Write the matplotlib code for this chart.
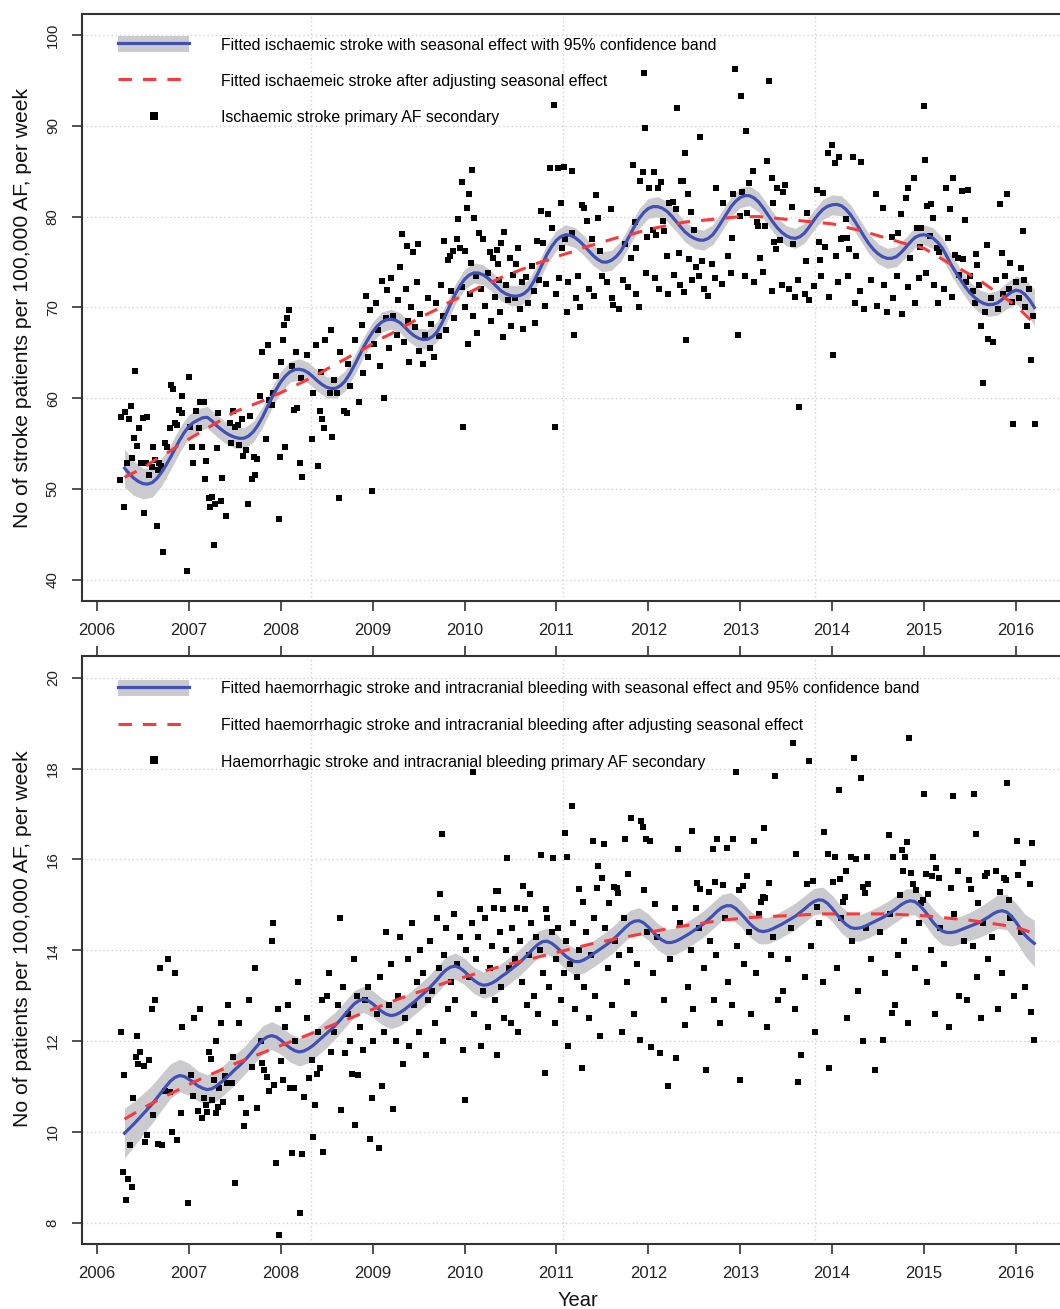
import numpy as np
import matplotlib
matplotlib.use('Agg')
import matplotlib.pyplot as plt
from matplotlib.patches import Patch
from matplotlib.lines import Line2D

plt.rcParams['font.family'] = ['Liberation Sans', 'DejaVu Sans']

# ---------------- DATA ----------------
year_ticks = [2006, 2007, 2008, 2009, 2010, 2011, 2012, 2013, 2014, 2015, 2016]
top_yticks = [40, 50, 60, 70, 80, 90, 100]
bot_yticks = [8, 10, 12, 14, 16, 18, 20]

# trend curves and band widths sampled every 0.1 year (2006.3 .. 2016.2)
trend_year = np.round(np.arange(2006.3, 2016.25, 0.1), 2)
# seasonal curves sampled every 0.05 year (2006.3 .. 2016.2)
seas_year = np.round(np.arange(2006.3, 2016.225, 0.05), 2)

top_trend = [51.3, 51.8, 52.3, 53.0, 53.6, 54.2, 54.9, 55.5, 56.1, 56.7,
             57.3, 57.9, 58.5, 58.9, 59.3, 59.7, 60.2, 60.6, 61.1, 61.6,
             62.1, 62.6, 63.2, 63.8, 64.3, 64.9, 65.4, 66.0, 66.6, 67.1,
             67.7, 68.2, 68.8, 69.3, 69.8, 70.4, 70.9, 71.4, 71.9, 72.4,
             72.8, 73.3, 73.7, 74.1, 74.5, 74.9, 75.2, 75.6, 75.9, 76.2,
             76.6, 76.9, 77.2, 77.5, 77.8, 78.0, 78.3, 78.6, 78.8, 79.0,
             79.2, 79.4, 79.5, 79.6, 79.7, 79.8, 79.9, 80.0, 80.0, 80.0,
             79.9, 79.8, 79.7, 79.6, 79.5, 79.4, 79.3, 79.2, 79.0, 78.7,
             78.5, 78.2, 77.9, 77.6, 77.3, 77.0, 76.8, 76.5, 75.9, 75.3,
             74.7, 74.2, 73.6, 73.0, 72.3, 71.6, 70.9, 70.2, 69.2, 68.2]

top_seasonal = [52.3, 51.7, 51.2, 50.83, 50.6, 50.54, 50.7, 51.15, 51.8, 52.6,
                53.5, 54.46, 55.4, 56.23, 56.9, 57.33, 57.6, 57.85, 57.9, 57.52,
                57.0, 56.58, 56.2, 55.91, 55.7, 55.58, 55.6, 55.84, 56.3, 57.01,
                57.9, 58.94, 60.0, 60.96, 61.8, 62.44, 62.9, 63.14, 63.2, 63.08,
                62.8, 62.37, 61.9, 61.5, 61.2, 61.06, 61.1, 61.39, 61.9, 62.68,
                63.6, 64.6, 65.6, 66.51, 67.3, 67.94, 68.4, 68.64, 68.7, 68.58,
                68.3, 67.82, 67.3, 66.89, 66.6, 66.46, 66.5, 66.77, 67.3, 68.21,
                69.3, 70.43, 71.5, 72.39, 73.1, 73.56, 73.8, 73.79, 73.6, 73.25,
                72.8, 72.28, 71.8, 71.49, 71.3, 71.23, 71.3, 71.54, 72.0, 72.81,
                73.8, 74.87, 75.9, 76.74, 77.4, 77.81, 78.0, 77.94, 77.7, 77.3,
                76.8, 76.24, 75.7, 75.27, 75.0, 74.99, 75.2, 75.6, 76.2, 77.05,
                78.0, 78.94, 79.8, 80.45, 80.9, 81.1, 81.1, 80.93, 80.6, 80.09,
                79.5, 78.88, 78.3, 77.89, 77.6, 77.42, 77.4, 77.59, 78.0, 78.69,
                79.5, 80.33, 81.1, 81.69, 82.1, 82.31, 82.3, 82.05, 81.6, 80.94,
                80.2, 79.47, 78.8, 78.28, 77.9, 77.66, 77.6, 77.79, 78.2, 78.86,
                79.6, 80.26, 80.8, 81.13, 81.3, 81.34, 81.2, 80.79, 80.2, 79.44,
                78.6, 77.77, 77.0, 76.38, 75.9, 75.57, 75.4, 75.41, 75.6, 76.04,
                76.6, 77.19, 77.7, 77.94, 78.0, 77.89, 77.6, 77.14, 76.5, 75.58,
                74.6, 73.77, 73.0, 72.26, 71.6, 71.09, 70.7, 70.43, 70.3, 70.33,
                70.5, 70.88, 71.3, 71.68, 71.9, 71.78, 71.4, 70.79, 70.0]

top_band_halfwidth = [2.1, 1.9, 1.7, 1.6, 1.5, 1.4, 1.35, 1.3, 1.25, 1.2,
                      1.2, 1.2, 1.2, 1.15, 1.15, 1.15, 1.15, 1.15, 1.15, 1.15,
                      1.15, 1.15, 1.15, 1.1, 1.1, 1.1, 1.1, 1.1, 1.1, 1.1,
                      1.1, 1.1, 1.1, 1.1, 1.1, 1.1, 1.1, 1.1, 1.1, 1.1,
                      1.1, 1.1, 1.1, 1.1, 1.1, 1.1, 1.1, 1.1, 1.1, 1.1,
                      1.1, 1.1, 1.1, 1.1, 1.1, 1.1, 1.1, 1.1, 1.1, 1.1,
                      1.1, 1.1, 1.1, 1.1, 1.1, 1.1, 1.1, 1.1, 1.1, 1.1,
                      1.1, 1.1, 1.1, 1.1, 1.1, 1.1, 1.1, 1.1, 1.1, 1.1,
                      1.1, 1.1, 1.1, 1.1, 1.1, 1.1, 1.1, 1.1, 1.15, 1.15,
                      1.15, 1.15, 1.2, 1.25, 1.3, 1.35, 1.45, 1.55, 1.75, 2.0]

bot_trend = [10.28, 10.40, 10.52, 10.63, 10.74, 10.84, 10.94, 11.04, 11.14, 11.23,
             11.32, 11.41, 11.50, 11.58, 11.66, 11.74, 11.82, 11.90, 11.98, 12.06,
             12.14, 12.22, 12.30, 12.38, 12.46, 12.54, 12.62, 12.70, 12.78, 12.86,
             12.94, 13.01, 13.08, 13.15, 13.22, 13.29, 13.35, 13.41, 13.47, 13.53,
             13.59, 13.65, 13.70, 13.75, 13.80, 13.85, 13.90, 13.95, 14.00, 14.05,
             14.10, 14.15, 14.19, 14.23, 14.27, 14.31, 14.35, 14.39, 14.43, 14.47,
             14.51, 14.54, 14.57, 14.60, 14.63, 14.66, 14.68, 14.70, 14.72, 14.73,
             14.74, 14.75, 14.76, 14.77, 14.78, 14.79, 14.80, 14.80, 14.80, 14.80,
             14.80, 14.80, 14.80, 14.80, 14.79, 14.78, 14.77, 14.76, 14.74, 14.72,
             14.70, 14.68, 14.66, 14.63, 14.60, 14.57, 14.54, 14.50, 14.44, 14.36]

bot_seasonal = [9.97, 10.07, 10.17, 10.28, 10.39, 10.50, 10.61, 10.74, 10.87, 11.0,
                11.12, 11.2, 11.24, 11.22, 11.16, 11.09, 11.01, 10.96, 10.93, 10.95,
                11.01, 11.09, 11.18, 11.27, 11.37, 11.46, 11.56, 11.67, 11.79, 11.91,
                12.02, 12.09, 12.12, 12.09, 12.02, 11.93, 11.85, 11.79, 11.76, 11.78,
                11.83, 11.9, 11.99, 12.08, 12.17, 12.26, 12.36, 12.47, 12.59, 12.71,
                12.82, 12.89, 12.92, 12.89, 12.82, 12.73, 12.65, 12.59, 12.56, 12.58,
                12.63, 12.70, 12.78, 12.86, 12.95, 13.04, 13.13, 13.24, 13.35, 13.47,
                13.57, 13.63, 13.65, 13.61, 13.53, 13.43, 13.34, 13.27, 13.23, 13.24,
                13.28, 13.34, 13.42, 13.49, 13.57, 13.65, 13.73, 13.83, 13.93, 14.04,
                14.13, 14.19, 14.20, 14.15, 14.07, 13.97, 13.87, 13.8, 13.75, 13.75,
                13.79, 13.85, 13.92, 13.99, 14.06, 14.13, 14.21, 14.3, 14.40, 14.5,
                14.59, 14.64, 14.65, 14.6, 14.51, 14.4, 14.30, 14.22, 14.17, 14.17,
                14.20, 14.25, 14.31, 14.37, 14.44, 14.51, 14.58, 14.67, 14.76, 14.86,
                14.94, 14.98, 14.98, 14.92, 14.82, 14.71, 14.59, 14.5, 14.43, 14.41,
                14.43, 14.47, 14.52, 14.57, 14.63, 14.69, 14.75, 14.83, 14.91, 15.0,
                15.07, 15.11, 15.10, 15.03, 14.92, 14.79, 14.67, 14.57, 14.50, 14.48,
                14.49, 14.52, 14.57, 14.62, 14.67, 14.72, 14.78, 14.85, 14.92, 15.0,
                15.06, 15.09, 15.07, 14.99, 14.88, 14.75, 14.61, 14.5, 14.42, 14.39,
                14.39, 14.41, 14.45, 14.49, 14.53, 14.57, 14.61, 14.67, 14.73, 14.8,
                14.85, 14.87, 14.84, 14.75, 14.62, 14.47, 14.33, 14.23, 14.15]

bot_band_halfwidth = [0.55, 0.50, 0.45, 0.42, 0.40, 0.38, 0.36, 0.35, 0.33, 0.33,
                      0.33, 0.33, 0.33, 0.31, 0.31, 0.31, 0.31, 0.31, 0.31, 0.31,
                      0.31, 0.31, 0.31, 0.29, 0.29, 0.29, 0.29, 0.29, 0.29, 0.29,
                      0.29, 0.29, 0.29, 0.29, 0.29, 0.29, 0.29, 0.29, 0.29, 0.29,
                      0.29, 0.29, 0.29, 0.29, 0.29, 0.29, 0.29, 0.29, 0.29, 0.29,
                      0.29, 0.29, 0.29, 0.29, 0.29, 0.29, 0.29, 0.29, 0.29, 0.29,
                      0.29, 0.29, 0.29, 0.29, 0.29, 0.29, 0.29, 0.29, 0.29, 0.29,
                      0.29, 0.29, 0.29, 0.29, 0.29, 0.29, 0.29, 0.29, 0.29, 0.29,
                      0.29, 0.29, 0.29, 0.29, 0.29, 0.29, 0.29, 0.29, 0.30, 0.30,
                      0.30, 0.30, 0.31, 0.33, 0.35, 0.37, 0.39, 0.42, 0.46, 0.51]

# weekly observations (year, value)
top_obs_2006_2008 = [
    (2006.25, 51.0), (2006.26, 57.9), (2006.29, 48.0), (2006.31, 58.5), (2006.33, 52.9),
    (2006.35, 57.7), (2006.37, 59.1), (2006.38, 53.4), (2006.40, 55.6), (2006.41, 63.0),
    (2006.44, 54.7), (2006.46, 56.7), (2006.48, 52.9), (2006.50, 57.8), (2006.51, 47.4),
    (2006.53, 52.9), (2006.54, 57.9), (2006.57, 51.5), (2006.60, 52.4), (2006.61, 54.6),
    (2006.63, 53.2), (2006.65, 45.9), (2006.66, 52.1), (2006.67, 52.9), (2006.70, 52.5),
    (2006.72, 43.1), (2006.74, 55.1), (2006.76, 54.6), (2006.79, 56.7), (2006.81, 61.5),
    (2006.83, 61.0), (2006.85, 57.3), (2006.87, 57.0), (2006.89, 58.7), (2006.92, 58.4),
    (2006.93, 60.2), (2006.98, 41.0), (2007.00, 62.3), (2007.01, 56.8), (2007.03, 54.6),
    (2007.05, 52.9), (2007.08, 58.6), (2007.11, 56.7), (2007.12, 59.6), (2007.14, 54.6),
    (2007.16, 59.6), (2007.17, 51.1), (2007.19, 53.1), (2007.22, 49.0), (2007.23, 48.0),
    (2007.25, 49.1), (2007.27, 43.8), (2007.28, 48.3), (2007.31, 54.5), (2007.32, 58.4),
    (2007.35, 48.7), (2007.36, 51.2), (2007.40, 47.0), (2007.45, 57.3), (2007.46, 55.1),
    (2007.48, 58.6), (2007.50, 56.8), (2007.53, 57.0), (2007.55, 54.8), (2007.58, 57.7),
    (2007.59, 53.6), (2007.62, 54.3), (2007.64, 48.3), (2007.66, 58.0), (2007.69, 51.1),
    (2007.71, 53.5), (2007.72, 51.5), (2007.74, 53.3), (2007.77, 60.2), (2007.80, 65.1),
    (2007.84, 55.5), (2007.86, 65.9), (2007.87, 59.8), (2007.90, 59.3), (2007.92, 60.6),
    (2007.95, 62.5), (2007.98, 46.7), (2007.99, 53.5), (2008.00, 64.0), (2008.02, 66.4),
    (2008.04, 68.1), (2008.05, 54.6), (2008.07, 68.8), (2008.09, 69.7), (2008.12, 63.5),
    (2008.14, 58.7), (2008.17, 65.1), (2008.18, 58.9), (2008.21, 52.9), (2008.22, 62.2),
    (2008.23, 51.3), (2008.28, 64.8), (2008.34, 55.5), (2008.35, 60.6), (2008.38, 65.9),
    (2008.40, 52.5), (2008.43, 58.6), (2008.44, 62.9), (2008.45, 57.7), (2008.47, 56.7),
    (2008.48, 66.4), (2008.54, 60.6), (2008.55, 67.5), (2008.56, 55.7), (2008.58, 62.0),
    (2008.61, 60.6), (2008.63, 49.0), (2008.64, 65.1), (2008.69, 58.6), (2008.72, 58.4),
    (2008.73, 63.8), (2008.75, 61.3), (2008.81, 66.4), (2008.85, 59.6),
]
top_obs_2009_2010 = [
    (2008.88, 68.1), (2008.90, 62.8), (2008.93, 71.3), (2008.95, 64.5), (2008.97, 69.7),
    (2008.99, 49.8), (2009.01, 66.0), (2009.04, 70.5), (2009.06, 67.5), (2009.08, 63.5),
    (2009.10, 72.9), (2009.12, 60.0), (2009.14, 68.8), (2009.16, 71.9), (2009.18, 65.5),
    (2009.20, 73.2), (2009.22, 69.0), (2009.26, 67.0), (2009.28, 70.8), (2009.30, 74.4),
    (2009.32, 78.1), (2009.34, 66.2), (2009.36, 72.0), (2009.37, 76.8), (2009.38, 68.5),
    (2009.40, 64.0), (2009.42, 70.0), (2009.44, 76.1), (2009.46, 67.8), (2009.48, 72.8),
    (2009.49, 77.0), (2009.50, 65.2), (2009.52, 69.3), (2009.55, 63.8), (2009.57, 67.0),
    (2009.60, 71.0), (2009.62, 65.5), (2009.64, 68.2), (2009.67, 64.5), (2009.69, 70.5),
    (2009.72, 66.8), (2009.74, 72.5), (2009.77, 69.0), (2009.78, 77.3), (2009.80, 67.5),
    (2009.82, 75.2), (2009.84, 75.7), (2009.85, 71.8), (2009.87, 76.2), (2009.89, 68.8),
    (2009.92, 77.5), (2009.93, 79.7), (2009.95, 76.5), (2009.97, 83.8), (2009.97, 72.2),
    (2009.98, 56.8), (2010.00, 76.2), (2010.01, 70.0), (2010.03, 80.9), (2010.04, 66.0),
    (2010.05, 82.5), (2010.06, 71.5), (2010.07, 74.9), (2010.08, 85.1), (2010.09, 69.0),
    (2010.10, 79.8), (2010.12, 73.5), (2010.14, 67.2), (2010.16, 78.2), (2010.18, 72.0),
    (2010.20, 77.5), (2010.22, 70.2), (2010.25, 73.8), (2010.28, 76.1), (2010.29, 68.5),
    (2010.31, 75.4), (2010.33, 71.2), (2010.35, 76.3), (2010.36, 74.8), (2010.37, 73.0),
    (2010.39, 69.5), (2010.40, 77.1), (2010.42, 66.7), (2010.43, 78.3), (2010.45, 72.5),
    (2010.47, 70.8), (2010.49, 75.4),
]
top_obs_2010_2011 = [
    (2010.51, 68.0), (2010.53, 73.6), (2010.55, 71.0), (2010.56, 74.8), (2010.58, 76.5),
    (2010.60, 69.8), (2010.62, 72.8), (2010.64, 67.6), (2010.67, 73.4), (2010.69, 70.5),
    (2010.73, 74.6), (2010.75, 71.8), (2010.77, 68.3), (2010.79, 77.3), (2010.81, 73.0),
    (2010.83, 80.6), (2010.85, 77.1), (2010.87, 70.2), (2010.89, 72.6), (2010.91, 80.3),
    (2010.93, 85.4), (2010.95, 78.7), (2010.97, 92.3), (2010.98, 56.8), (2011.00, 71.5),
    (2011.02, 85.4), (2011.03, 73.2), (2011.05, 81.5), (2011.06, 76.5), (2011.08, 85.5),
    (2011.09, 77.5), (2011.11, 69.5), (2011.13, 72.8), (2011.17, 85.0), (2011.17, 78.2),
    (2011.19, 67.0), (2011.21, 71.0), (2011.23, 73.5), (2011.26, 70.0), (2011.28, 81.3),
    (2011.30, 80.9), (2011.33, 79.5), (2011.35, 72.0), (2011.39, 77.5), (2011.41, 71.3),
    (2011.43, 82.4), (2011.45, 79.8), (2011.47, 76.2),
]
top_obs_2011_2012 = [
    (2011.50, 73.5), (2011.55, 72.8), (2011.59, 80.8), (2011.60, 71.0), (2011.62, 70.3),
    (2011.68, 69.8), (2011.72, 73.0), (2011.75, 77.0), (2011.78, 72.2), (2011.81, 75.4),
    (2011.83, 85.7), (2011.85, 79.4), (2011.86, 71.5), (2011.87, 76.5), (2011.90, 70.0),
    (2011.91, 83.9), (2011.94, 84.9), (2011.95, 95.8), (2011.96, 89.8), (2011.97, 73.8),
    (2011.98, 77.8), (2012.01, 83.2), (2012.05, 78.5), (2012.06, 84.9), (2012.07, 73.2),
    (2012.08, 78.0), (2012.11, 83.2), (2012.12, 72.0), (2012.14, 83.8), (2012.16, 79.5),
    (2012.17, 78.4), (2012.20, 75.7), (2012.21, 71.5), (2012.22, 81.5), (2012.27, 81.6),
    (2012.28, 73.6), (2012.30, 80.8), (2012.31, 92.0), (2012.33, 76.0), (2012.34, 72.5),
    (2012.35, 83.9), (2012.38, 83.9), (2012.39, 71.7), (2012.40, 87.0), (2012.41, 66.4),
    (2012.43, 82.5), (2012.44, 75.3), (2012.46, 80.5), (2012.47, 73.0), (2012.50, 78.5),
    (2012.52, 74.4),
]
top_obs_2012_2013 = [
    (2012.55, 73.5), (2012.56, 88.8), (2012.58, 75.1), (2012.60, 72.0), (2012.65, 71.3),
    (2012.69, 74.8), (2012.72, 73.2), (2012.74, 83.2), (2012.80, 72.6), (2012.81, 81.5),
    (2012.87, 75.7), (2012.90, 73.8), (2012.91, 77.6), (2012.92, 82.5), (2012.94, 96.3),
    (2012.98, 67.0), (2013.00, 80.1), (2013.01, 93.3), (2013.02, 82.7), (2013.05, 73.5),
    (2013.06, 89.4), (2013.07, 80.4), (2013.09, 83.7), (2013.14, 85.0), (2013.15, 72.8),
    (2013.18, 79.4), (2013.19, 79.0), (2013.21, 75.4), (2013.25, 73.9), (2013.27, 79.0),
    (2013.29, 86.1), (2013.31, 94.9), (2013.34, 84.3), (2013.35, 71.8), (2013.36, 81.5),
    (2013.37, 77.2), (2013.39, 76.4), (2013.40, 83.2), (2013.43, 77.4), (2013.45, 72.5),
    (2013.46, 82.7), (2013.49, 83.5),
]
top_obs_2013_2014 = [
    (2013.53, 72.0), (2013.56, 81.1), (2013.57, 77.0), (2013.60, 71.2), (2013.63, 73.0),
    (2013.64, 59.0), (2013.70, 71.5), (2013.72, 75.1), (2013.73, 80.4), (2013.75, 70.8),
    (2013.80, 72.4), (2013.84, 82.9), (2013.86, 77.2), (2013.87, 75.2), (2013.88, 73.5),
    (2013.90, 82.6), (2013.92, 76.7), (2013.95, 87.0), (2013.96, 71.2), (2014.00, 87.9),
    (2014.01, 64.8), (2014.03, 85.9), (2014.04, 75.7), (2014.06, 72.8), (2014.07, 86.6),
    (2014.10, 77.5), (2014.12, 77.6), (2014.15, 79.7), (2014.16, 77.6), (2014.17, 73.5),
    (2014.18, 76.4), (2014.23, 86.6), (2014.25, 70.5), (2014.26, 75.7), (2014.30, 71.8),
    (2014.31, 86.0), (2014.35, 69.8), (2014.42, 73.0), (2014.48, 82.5), (2014.49, 70.2),
]
top_obs_2014_2015 = [
    (2014.55, 80.9), (2014.56, 72.5), (2014.60, 69.5), (2014.65, 77.8), (2014.66, 71.0),
    (2014.70, 73.5), (2014.72, 78.2), (2014.75, 80.3), (2014.76, 69.3), (2014.80, 82.1),
    (2014.82, 83.2), (2014.83, 72.2), (2014.85, 75.4), (2014.89, 84.3), (2014.90, 70.5),
    (2014.92, 78.7), (2014.95, 73.2), (2014.96, 76.7), (2014.97, 78.7), (2015.00, 92.2),
    (2015.01, 86.2), (2015.02, 73.8), (2015.03, 81.2), (2015.06, 77.9), (2015.08, 81.4),
    (2015.10, 79.9), (2015.11, 72.5), (2015.14, 76.5), (2015.15, 70.5), (2015.16, 76.1),
    (2015.22, 72.0), (2015.24, 83.2), (2015.26, 77.6), (2015.28, 80.8), (2015.30, 71.2),
    (2015.31, 84.3), (2015.34, 75.8), (2015.37, 75.4), (2015.38, 73.6), (2015.41, 82.8),
    (2015.42, 75.3), (2015.45, 79.6), (2015.46, 72.8), (2015.48, 82.9),
]
top_obs_2015_2016 = [
    (2015.50, 73.5), (2015.53, 71.8), (2015.55, 70.5), (2015.56, 75.9), (2015.58, 74.7),
    (2015.60, 72.5), (2015.62, 68.0), (2015.64, 61.7), (2015.66, 69.5), (2015.68, 76.9),
    (2015.70, 66.5), (2015.73, 71.0), (2015.75, 66.2), (2015.78, 73.0), (2015.80, 69.8),
    (2015.83, 81.4), (2015.85, 76.0), (2015.86, 71.5), (2015.88, 73.5), (2015.90, 82.5),
    (2015.92, 72.0), (2015.93, 74.9), (2015.96, 70.6), (2015.97, 57.2), (2016.00, 72.8),
    (2016.03, 71.0), (2016.06, 74.3), (2016.08, 78.4), (2016.09, 73.0), (2016.10, 70.0),
    (2016.12, 68.0), (2016.14, 72.0), (2016.16, 64.2), (2016.19, 69.0), (2016.21, 57.2),
]

bot_obs_2006_2008 = [
    (2006.26, 12.2), (2006.28, 9.12), (2006.29, 11.26), (2006.32, 8.5), (2006.34, 8.97),
    (2006.36, 9.71), (2006.38, 8.79), (2006.39, 10.75), (2006.42, 11.65), (2006.44, 12.1),
    (2006.45, 11.49), (2006.47, 11.76), (2006.51, 11.46), (2006.52, 9.78), (2006.54, 9.93),
    (2006.57, 11.59), (2006.60, 12.7), (2006.61, 10.37), (2006.63, 12.9), (2006.66, 9.74),
    (2006.69, 13.6), (2006.71, 9.71), (2006.74, 10.9), (2006.77, 13.8), (2006.79, 10.88),
    (2006.82, 10.0), (2006.85, 13.5), (2006.87, 9.82), (2006.91, 10.42), (2006.93, 12.3),
    (2006.99, 8.44), (2007.02, 11.26), (2007.04, 10.79), (2007.06, 12.5), (2007.10, 10.46),
    (2007.12, 12.7), (2007.14, 10.3), (2007.16, 10.75), (2007.19, 10.6), (2007.20, 10.44),
    (2007.22, 11.76), (2007.24, 11.6), (2007.25, 10.7), (2007.27, 11.15), (2007.29, 10.42),
    (2007.30, 12.0), (2007.32, 10.55), (2007.33, 10.97), (2007.35, 12.4), (2007.37, 10.66),
    (2007.39, 11.23), (2007.41, 11.08), (2007.43, 12.8), (2007.47, 11.08), (2007.48, 11.65),
    (2007.50, 8.88), (2007.55, 12.4), (2007.57, 10.75), (2007.60, 10.13), (2007.62, 10.42),
    (2007.65, 12.9), (2007.69, 11.43), (2007.72, 13.6), (2007.74, 10.53), (2007.78, 12.0),
    (2007.80, 11.52), (2007.82, 11.37), (2007.85, 11.21), (2007.87, 10.9), (2007.90, 14.2),
    (2007.92, 14.6), (2007.93, 11.04), (2007.95, 9.32), (2007.97, 12.7), (2007.98, 7.73),
    (2008.00, 11.56), (2008.02, 11.15), (2008.05, 12.3), (2008.08, 12.8), (2008.10, 10.97),
    (2008.12, 9.54), (2008.14, 10.97), (2008.16, 12.0), (2008.19, 13.3), (2008.21, 8.22),
    (2008.23, 9.52), (2008.25, 10.77), (2008.28, 12.5), (2008.31, 11.19), (2008.34, 11.59),
    (2008.35, 9.89), (2008.37, 10.6), (2008.39, 11.28), (2008.41, 12.2), (2008.43, 11.41),
    (2008.45, 12.9), (2008.46, 9.56), (2008.50, 13.0), (2008.52, 13.5), (2008.55, 11.76),
    (2008.58, 12.2), (2008.62, 12.8), (2008.64, 14.7), (2008.66, 10.48), (2008.68, 13.2),
    (2008.70, 11.74), (2008.73, 12.6), (2008.75, 12.0), (2008.77, 11.28), (2008.80, 13.8),
    (2008.81, 10.16), (2008.83, 13.0), (2008.84, 11.26),
]
bot_obs_2009_2011 = [
    (2008.86, 12.3), (2008.90, 11.8), (2008.92, 12.9), (2008.95, 13.2), (2008.97, 9.84),
    (2008.99, 10.75), (2009.00, 12.0), (2009.05, 12.6), (2009.07, 9.65), (2009.08, 13.4),
    (2009.10, 11.0), (2009.12, 12.2), (2009.15, 14.4), (2009.18, 12.8), (2009.20, 13.7),
    (2009.22, 10.5), (2009.25, 12.0), (2009.28, 13.0), (2009.30, 14.3), (2009.33, 11.5),
    (2009.35, 12.5), (2009.38, 13.8), (2009.40, 11.9), (2009.43, 14.6), (2009.45, 12.8),
    (2009.48, 13.3), (2009.50, 12.2), (2009.52, 14.0), (2009.55, 13.5), (2009.58, 11.7),
    (2009.60, 12.9), (2009.62, 14.2), (2009.65, 13.1), (2009.68, 12.4), (2009.70, 14.7),
    (2009.72, 13.6), (2009.73, 15.24), (2009.75, 16.56), (2009.76, 12.0), (2009.78, 13.9),
    (2009.80, 14.5), (2009.82, 12.7), (2009.85, 13.3), (2009.88, 14.8), (2009.90, 12.9),
    (2009.92, 13.7), (2009.95, 14.3), (2009.98, 11.8), (2010.00, 10.7), (2010.02, 14.0),
    (2010.05, 13.4), (2010.08, 14.6), (2010.09, 17.93), (2010.10, 12.6), (2010.12, 13.8),
    (2010.15, 14.3), (2010.17, 14.91), (2010.18, 11.9), (2010.20, 13.1), (2010.22, 14.7),
    (2010.25, 12.3), (2010.28, 13.6), (2010.30, 14.1), (2010.32, 14.93), (2010.33, 12.9),
    (2010.34, 15.31), (2010.35, 11.7), (2010.36, 15.31), (2010.38, 14.4), (2010.40, 13.2),
    (2010.42, 14.91), (2010.43, 12.5), (2010.45, 14.0), (2010.46, 16.04), (2010.48, 13.6),
    (2010.50, 12.4), (2010.52, 14.5), (2010.55, 13.8), (2010.57, 14.93), (2010.58, 12.2),
    (2010.60, 14.2), (2010.62, 13.3), (2010.64, 15.42), (2010.66, 14.91), (2010.68, 12.8),
    (2010.70, 13.9), (2010.71, 15.24), (2010.72, 14.6), (2010.75, 13.0), (2010.78, 14.3),
    (2010.80, 12.6), (2010.82, 14.0), (2010.83, 16.1), (2010.85, 13.5), (2010.88, 11.3),
    (2010.89, 14.91), (2010.90, 14.7), (2010.92, 13.2), (2010.95, 14.4), (2010.96, 16.04),
    (2010.98, 12.4), (2011.00, 13.8), (2011.02, 14.5), (2011.05, 12.9), (2011.08, 13.5),
    (2011.09, 16.59), (2011.10, 14.2), (2011.11, 16.06), (2011.12, 11.9), (2011.15, 13.7),
    (2011.17, 17.18), (2011.18, 14.6), (2011.20, 12.7), (2011.22, 13.4), (2011.24, 15.35),
    (2011.25, 14.0), (2011.28, 11.4), (2011.29, 15.07), (2011.30, 13.2), (2011.32, 14.4),
    (2011.35, 12.5), (2011.38, 13.9), (2011.40, 16.41), (2011.41, 14.7), (2011.42, 13.0),
    (2011.44, 15.37), (2011.45, 15.86), (2011.47, 12.1), (2011.50, 15.59), (2011.52, 16.34),
]
bot_obs_2011_2013 = [
    (2011.53, 14.5), (2011.56, 13.6), (2011.57, 15.04), (2011.60, 12.8), (2011.63, 15.4),
    (2011.64, 14.2), (2011.66, 15.37), (2011.67, 15.26), (2011.68, 13.9), (2011.71, 12.2),
    (2011.74, 14.7), (2011.75, 16.45), (2011.77, 13.3), (2011.78, 15.68), (2011.80, 14.0),
    (2011.81, 16.92), (2011.84, 12.6), (2011.88, 13.7), (2011.91, 12.03), (2011.92, 16.85),
    (2011.94, 16.72), (2011.95, 15.33), (2011.97, 16.45), (2011.98, 14.4), (2012.02, 16.41),
    (2012.03, 11.87), (2012.05, 13.5), (2012.07, 15.02), (2012.09, 14.3), (2012.13, 11.74),
    (2012.17, 12.9), (2012.21, 11.0), (2012.24, 13.8), (2012.29, 14.93), (2012.30, 11.63),
    (2012.32, 16.23), (2012.34, 14.6), (2012.40, 12.36), (2012.43, 13.2), (2012.46, 14.0),
    (2012.47, 16.63), (2012.49, 12.7), (2012.52, 14.93), (2012.53, 15.48), (2012.55, 14.5),
    (2012.56, 15.35), (2012.60, 13.6), (2012.63, 11.37), (2012.66, 15.29), (2012.67, 14.2),
    (2012.70, 16.23), (2012.71, 12.9), (2012.72, 15.51), (2012.74, 13.9), (2012.75, 16.45),
    (2012.78, 12.4), (2012.81, 15.44), (2012.83, 14.7), (2012.86, 16.26), (2012.87, 13.3),
    (2012.91, 12.8), (2012.92, 16.45), (2012.95, 17.93), (2012.96, 14.1), (2012.99, 15.33),
    (2013.00, 11.15), (2013.03, 15.42), (2013.04, 13.7), (2013.07, 15.64), (2013.09, 14.4),
    (2013.12, 12.6), (2013.15, 16.41), (2013.17, 13.5), (2013.20, 14.8), (2013.23, 15.07),
    (2013.25, 15.18), (2013.26, 16.7), (2013.27, 15.15), (2013.29, 12.3), (2013.31, 15.48),
    (2013.33, 13.9), (2013.36, 14.3), (2013.38, 17.84), (2013.41, 12.9), (2013.46, 13.1),
]
bot_obs_2013_2016 = [
    (2013.52, 13.8), (2013.55, 14.5), (2013.57, 18.57), (2013.59, 12.7), (2013.61, 16.12),
    (2013.63, 11.1), (2013.66, 11.7), (2013.70, 13.4), (2013.73, 15.46), (2013.75, 18.17),
    (2013.77, 14.1), (2013.79, 15.53), (2013.81, 12.2), (2013.83, 14.96), (2013.86, 14.6),
    (2013.90, 13.3), (2013.91, 16.61), (2013.95, 16.12), (2013.96, 11.4), (2014.01, 15.51),
    (2014.03, 16.06), (2014.05, 13.6), (2014.07, 17.53), (2014.08, 15.57), (2014.10, 14.7),
    (2014.12, 15.07), (2014.14, 15.18), (2014.15, 15.75), (2014.16, 12.5), (2014.20, 16.06),
    (2014.22, 14.2), (2014.24, 18.24), (2014.26, 16.01), (2014.28, 13.1), (2014.31, 17.8),
    (2014.33, 12.0), (2014.34, 15.4), (2014.36, 15.26), (2014.37, 14.5), (2014.38, 16.06),
    (2014.39, 15.46), (2014.42, 13.8), (2014.47, 11.37), (2014.52, 14.4), (2014.55, 12.03),
    (2014.58, 13.5), (2014.62, 16.54), (2014.63, 14.8), (2014.65, 12.62), (2014.66, 16.06),
    (2014.68, 12.8), (2014.72, 13.9), (2014.74, 15.22), (2014.76, 16.21), (2014.77, 15.75),
    (2014.78, 14.2), (2014.79, 16.06), (2014.81, 16.39), (2014.83, 12.4), (2014.84, 18.68),
    (2014.86, 15.7), (2014.88, 15.46), (2014.90, 13.6), (2014.91, 15.33), (2014.95, 14.6),
    (2014.97, 15.04), (2014.99, 15.11), (2015.00, 17.44), (2015.02, 15.68), (2015.03, 13.3),
    (2015.04, 15.24), (2015.07, 14.0), (2015.09, 15.64), (2015.10, 16.06), (2015.12, 12.6),
    (2015.13, 15.81), (2015.16, 15.59), (2015.17, 14.5), (2015.22, 13.7), (2015.27, 12.3),
    (2015.29, 15.37), (2015.31, 17.4), (2015.33, 14.8), (2015.37, 15.75), (2015.38, 13.0),
    (2015.43, 14.2), (2015.47, 12.9), (2015.49, 15.55), (2015.51, 15.35), (2015.53, 14.1),
    (2015.54, 17.44), (2015.56, 16.56), (2015.58, 13.4), (2015.59, 15.04), (2015.62, 12.5),
    (2015.64, 14.6), (2015.66, 15.64), (2015.69, 15.7), (2015.70, 13.8), (2015.74, 14.3),
    (2015.78, 15.75), (2015.80, 12.7), (2015.83, 15.29), (2015.85, 13.5), (2015.87, 15.59),
    (2015.89, 15.55), (2015.90, 17.68), (2015.92, 15.11), (2015.94, 14.7), (2015.98, 13.0),
    (2016.01, 16.41), (2016.02, 15.66), (2016.05, 14.4), (2016.08, 15.93), (2016.10, 13.2),
    (2016.15, 15.46), (2016.16, 12.64), (2016.17, 16.37), (2016.20, 12.03),
]

top_labels = ["Fitted ischaemic stroke with seasonal effect with 95% confidence band",
              "Fitted ischaemeic stroke after adjusting seasonal effect",
              "Ischaemic stroke primary AF secondary"]
bot_labels = ["Fitted haemorrhagic stroke and intracranial bleeding with seasonal effect and 95% confidence band",
              "Fitted haemorrhagic stroke and intracranial bleeding after adjusting seasonal effect",
              "Haemorrhagic stroke and intracranial bleeding primary AF secondary"]
top_ylabel = "No of stroke patients per 100,000 AF, per week"
bot_ylabel = "No of patients per 100,000 AF, per week"
xlabel = "Year"
grid_years = [2008.33, 2011.07, 2013.81]   # R date grid (days 14000, 15000, 16000)

# ---------------- STYLE ----------------
W, H = 1060, 1309
BLUE = '#4150B4'
RED = '#F53B3B'
BAND = '#CBCBCF'
SPINE = '#333333'
GRID = '#D2D2D2'
XLIM = (2005.837, 2016.479)
DASH = (0, (4.4, 3.6))

fig = plt.figure(figsize=(W / 100, H / 100), dpi=100)


def box(l, t, r, b):
    return [l / W, 1 - b / H, (r - l) / W, (b - t) / H]


ax1 = fig.add_axes(box(82, 14, 1060, 601))
ax2 = fig.add_axes(box(82, 656, 1060, 1244))


def draw(ax, obs_lists, trend, seasonal, hw, ylim, yticks, labels, ylabel, ylabel_y,
         top_ticks, leg_y, leg_space):
    pts = [p for lst in obs_lists for p in lst]
    ox = [p[0] for p in pts]
    oy = [p[1] for p in pts]
    seas_coarse = np.array(seasonal)[::2]     # seasonal curve on the 0.1-year grid
    half = np.array(hw)
    ax.set_xlim(*XLIM)
    ax.set_ylim(*ylim)
    for gy in yticks:
        ax.axhline(gy, color=GRID, lw=1.0, ls=(0, (1, 2)), zorder=0)
    for gx in grid_years:
        ax.axvline(gx, color=GRID, lw=1.0, ls=(0, (1, 2)), zorder=0)
    ax.fill_between(trend_year, seas_coarse - half, seas_coarse + half,
                    color=BAND, lw=0, zorder=1)
    ax.plot(ox, oy, 's', ms=4.0, color='black', mec='black', mew=0, zorder=2)
    ax.plot(seas_year, seasonal, color=BLUE, lw=2.3, zorder=3, solid_joinstyle='round')
    ax.plot(trend_year, trend, color=RED, lw=2.2, ls=DASH, zorder=4)

    ax.set_xticks(year_ticks)
    ax.set_xticklabels([str(y) for y in year_ticks])
    ax.set_yticks(yticks)
    ax.set_yticklabels([str(v) for v in yticks], rotation=90, va='center')
    ax.tick_params(axis='x', direction='out', length=7, width=1.2, color=SPINE,
                   labelsize=12, pad=9, labelcolor='#222222', top=top_ticks)
    ax.tick_params(axis='y', direction='out', length=7, width=1.2, color=SPINE,
                   labelsize=10.8, pad=9, labelcolor='#222222')
    for s in ['left', 'bottom', 'top']:
        ax.spines[s].set_color(SPINE)
        ax.spines[s].set_linewidth(1.5)
    ax.spines['right'].set_visible(False)

    ax.set_ylabel(ylabel, fontsize=15.2, color='#111111')
    ax.yaxis.set_label_coords(-0.051, ylabel_y)

    h1 = (Patch(facecolor=BAND, edgecolor='none'), Line2D([], [], color=BLUE, lw=2.3))
    h2 = Line2D([], [], color=RED, lw=2.2, ls=DASH)
    h3 = Line2D([], [], color='black', marker='s', ms=6, ls='none', mew=0)
    ax.legend([h1, h2, h3], labels, loc='upper left', bbox_to_anchor=(0.037, leg_y),
              frameon=False, fontsize=11.4, handlelength=4.5, handleheight=1.15,
              handletextpad=2.0, labelspacing=leg_space, borderpad=0, borderaxespad=0)


draw(ax1, [top_obs_2006_2008, top_obs_2009_2010, top_obs_2010_2011, top_obs_2011_2012,
           top_obs_2012_2013, top_obs_2013_2014, top_obs_2014_2015, top_obs_2015_2016],
     top_trend, top_seasonal, top_band_halfwidth, (37.67, 102.31), top_yticks,
     top_labels, top_ylabel, 0.5, False, 0.962, 1.27)
draw(ax2, [bot_obs_2006_2008, bot_obs_2009_2011, bot_obs_2011_2013, bot_obs_2013_2016],
     bot_trend, bot_seasonal, bot_band_halfwidth, (7.53, 20.48), bot_yticks,
     bot_labels, bot_ylabel, 0.52, True, 0.959, 1.3)
ax2.tick_params(axis='x', labeltop=False)

fig.text(578 / W, 1 - 1300 / H, xlabel, ha='center', va='center', fontsize=14.5, color='#111111')

fig.savefig('out.png', dpi=100)
